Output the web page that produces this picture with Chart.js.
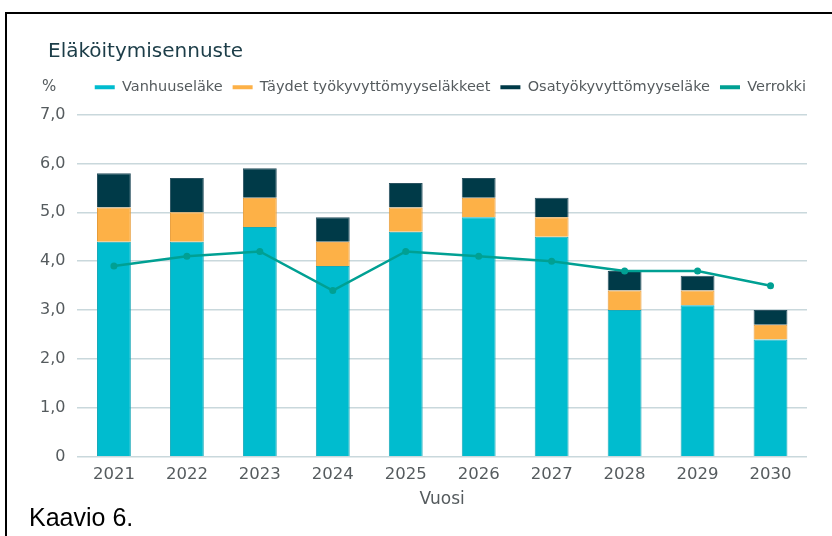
<!DOCTYPE html>
<html>
<head>
<meta charset="utf-8">
<script src="https://cdn.jsdelivr.net/npm/chart.js@4/dist/chart.umd.min.js"></script>
<style>
  body { margin: 0; background: #fff; }
  #wrap { position: relative; width: 832px; height: 536px; overflow: hidden; }
  #frame { position: absolute; left: 5px; top: 12px; width: 900px; height: 600px;
           border-left: 2px solid #000; border-top: 2px solid #000; }
  #caption { position: absolute; left: 29px; top: 503px; font-family: "Liberation Sans", Arial, sans-serif;
             font-size: 25px; color: #000; }
  canvas { position: absolute; left: 0; top: 0; }
</style>
</head>
<body>
<div id="wrap">
  <div id="frame"></div>
  <canvas id="chart" width="832" height="536"></canvas>
  <div id="caption">Kaavio 6.</div>
</div>
<script>
// Eläköitymisennuste, luvut luettu kuvasta (%)
var years = ['2021', '2022', '2023', '2024', '2025', '2026', '2027', '2028', '2029', '2030'];
var vanhuus = [4.4, 4.4, 4.7, 3.9, 4.6, 4.9, 4.5, 3.0, 3.1, 2.4];
var taydet = [0.7, 0.6, 0.6, 0.5, 0.5, 0.4, 0.4, 0.4, 0.3, 0.3];
var osa = [0.7, 0.7, 0.6, 0.5, 0.5, 0.4, 0.4, 0.4, 0.3, 0.3];
var verrokki = [3.9, 4.1, 4.2, 3.4, 4.2, 4.1, 4.0, 3.8, 3.8, 3.5];
var yTicks = [0, 1, 2, 3, 4, 5, 6, 7];

var colors = ['#00bccf', '#fdb147', '#003a48', '#00a093'];
var font = 'DejaVu Sans';

// legendalle lisää tilaa alle, otsikko ja legenda hieman oikealle
var tweaks = {
  id: 'tweaks',
  beforeInit: function(chart) {
    var fit = chart.legend.fit;
    chart.legend.fit = function() {
      fit.call(this);
      this.height += 10;
    };
  },
  afterLayout: function(chart) {
    chart.titleBlock.left += 20;
    chart.titleBlock.right += 20;
    chart.legend.left += 9;
    chart.legend.right += 9;
  },
  afterDraw: function(chart) {
    // "%" merkki legendan riville
    var ctx = chart.ctx;
    var box = chart.legend.legendHitBoxes[0];
    ctx.save();
    ctx.font = '15px "' + font + '"';
    ctx.fillStyle = '#555b5e';
    ctx.textBaseline = 'middle';
    ctx.fillText('%', 42, box.top + box.height / 2);
    ctx.restore();
  }
};

new Chart('chart', {
  type: 'bar',
  data: {
    labels: years,
    datasets: [
      { label: 'Vanhuuseläke', data: vanhuus, backgroundColor: colors[0], borderColor: '#1aa9b8', borderWidth: 1, order: 1 },
      { label: 'Täydet työkyvyttömyyseläkkeet', data: taydet, backgroundColor: colors[1], borderColor: '#e79c3a', borderWidth: 1, order: 1 },
      { label: 'Osatyökyvyttömyyseläke', data: osa, backgroundColor: colors[2], borderColor: '#2a5260', borderWidth: 1, order: 1 },
      { label: 'Verrokki', type: 'line', data: verrokki, borderColor: colors[3], backgroundColor: colors[3],
        borderWidth: 2.5, pointRadius: 3.5, pointBackgroundColor: colors[3], pointBorderWidth: 0, tension: 0, order: 0 }
    ]
  },
  options: {
    responsive: false,
    animation: false,
    layout: { padding: { left: 28, right: 25, top: 30, bottom: 26 } },
    datasets: { bar: { barPercentage: 0.58, categoryPercentage: 0.8 } },
    plugins: {
      tooltip: { enabled: false },
      title: {
        display: true,
        text: 'Eläköitymisennuste',
        align: 'start',
        color: '#1c3d48',
        font: { family: font, size: 20, weight: 'normal' },
        padding: { top: 10, bottom: 6 }
      },
      legend: {
        display: true,
        align: 'end',
        labels: {
          boxWidth: 20,
          boxHeight: 4,
          padding: 10,
          color: '#555b5e',
          font: { family: font, size: 14.5 },
          sort: function(a, b) { return a.datasetIndex - b.datasetIndex; },
          generateLabels: function(chart) {
            return Chart.defaults.plugins.legend.labels.generateLabels(chart).map(function(l) {
              l.fillStyle = colors[l.datasetIndex];
              l.strokeStyle = colors[l.datasetIndex];
              l.lineWidth = 0;
              return l;
            });
          }
        }
      }
    },
    scales: {
      x: {
        stacked: true,
        grid: { display: false },
        border: { display: false },
        ticks: { color: '#555b5e', font: { family: font, size: 16.5 }, padding: 0 },
        title: { display: true, text: 'Vuosi', color: '#555b5e', font: { family: font, size: 17 }, padding: { top: 5, bottom: 0 } }
      },
      y: {
        stacked: true,
        min: 0,
        max: 7,
        afterBuildTicks: function(axis) { axis.ticks = yTicks.map(function(v) { return { value: v }; }); },
        grid: { color: '#c9d8dc', lineWidth: 1.5, drawTicks: false },
        border: { display: false },
        ticks: {
          color: '#555b5e',
          font: { family: font, size: 16 },
          padding: 12,
          callback: function(v) { return v === 0 ? '0' : v.toFixed(1).replace('.', ','); }
        }
      }
    }
  },
  plugins: [tweaks]
});
</script>
</body>
</html>
